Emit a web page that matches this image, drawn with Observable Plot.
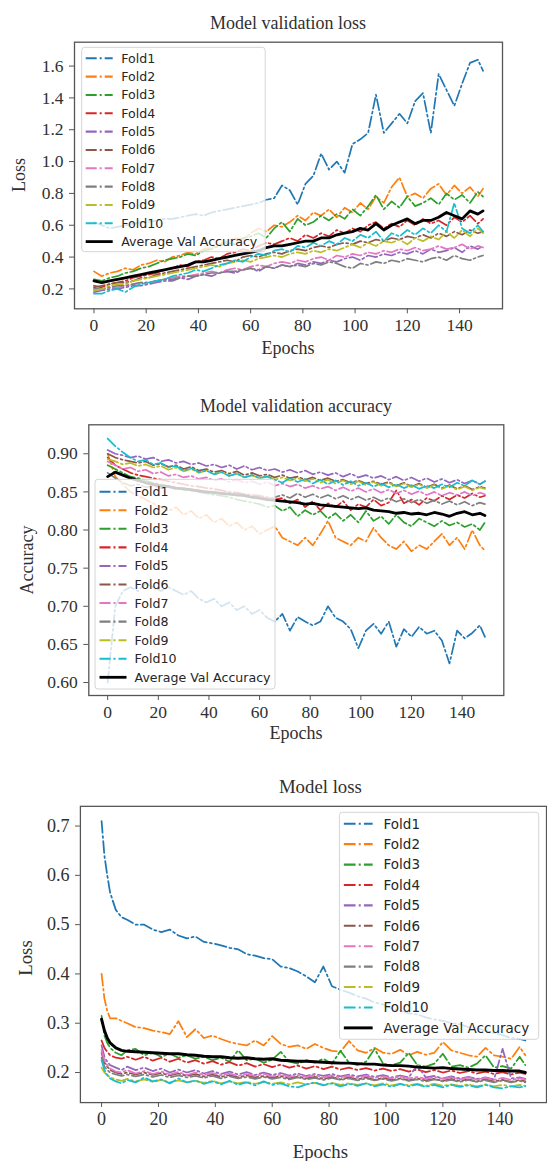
<!DOCTYPE html>
<html>
<head>
<meta charset="utf-8">
<script src="https://cdn.jsdelivr.net/npm/d3@7"></script>
<script src="https://cdn.jsdelivr.net/npm/@observablehq/plot@0.6"></script>
<style>
html,body{margin:0;padding:0;background:#fff;overflow:hidden;}
#root{position:relative;width:547px;height:1161px;overflow:hidden;background:#fff;}
.chart{position:absolute;left:0;}
.chart text{font-family:"Liberation Serif","DejaVu Serif",serif !important;}
.chart g.legend text{font-family:"DejaVu Sans",sans-serif !important;}
.lbl{position:absolute;font-family:"Liberation Serif","DejaVu Serif",serif;color:#303030;white-space:nowrap;transform:translate(-50%,-50%);line-height:1;}
.rot{transform:translate(-50%,-50%) rotate(-90deg);}
</style>
</head>
<body>
<div id="root"></div>
<script>
// ---------- categories ----------
const FOLDS = ["Fold1","Fold2","Fold3","Fold4","Fold5","Fold6","Fold7","Fold8","Fold9","Fold10"];
const AVG_NAME = "Average Val Accuracy";
const COLORS = ["#1f77b4","#ff7f0e","#2ca02c","#d62728","#9467bd","#8c564b","#e377c2","#7f7f7f","#bcbd22","#17becf"];
const X_TICKS = [0,20,40,60,80,100,120,140];

// epochs sampled for charts 1 and 2
const E1 = [0,3,6,9,12,15,18,21,24,27,30,33,36,39,42,45,48,51,54,57,60,63,66,69,72,75,78,81,84,87,90,93,96,99,102,105,108,111,114,117,120,123,126,129,132,135,138,141,144,147,149];
// epochs sampled for chart 3
const E3 = [0,1,2,3,5,7,9,12,15,18,21,24,27,30,33,36,39,42,45,48,51,54,57,60,63,66,69,72,75,78,81,84,87,90,93,96,99,102,105,108,111,114,117,120,123,126,129,132,135,138,141,144,147,149];

// ---------- Chart 1: Model validation loss ----------
const vl_f1 = [0.62,0.60,0.58,0.59,0.60,0.61,0.62,0.62,0.63,0.64, 0.64,0.65,0.66,0.67,0.66,0.68,0.69,0.70,0.71,0.72, 0.73,0.74,0.76,0.77,0.85,0.82,0.73,0.86,0.91,1.05, 0.95,1.00,0.93,1.11,1.14,1.18,1.42,1.18,1.24,1.30, 1.24,1.38,1.43,1.18,1.55,1.45,1.35,1.49,1.62,1.64, 1.57];
const vl_f2 = [0.31,0.28,0.30,0.31,0.33,0.32,0.35,0.36,0.38,0.37, 0.40,0.41,0.43,0.42,0.45,0.46,0.48,0.50,0.52,0.51, 0.55,0.58,0.56,0.60,0.59,0.62,0.66,0.63,0.68,0.66, 0.70,0.65,0.71,0.68,0.74,0.70,0.78,0.74,0.84,0.90, 0.78,0.80,0.77,0.83,0.86,0.79,0.85,0.80,0.84,0.78, 0.83];
const vl_f3 = [0.26,0.25,0.27,0.28,0.30,0.31,0.33,0.34,0.36,0.38, 0.39,0.40,0.42,0.41,0.44,0.45,0.47,0.49,0.48,0.52, 0.53,0.55,0.52,0.58,0.62,0.56,0.64,0.60,0.62,0.66, 0.63,0.67,0.64,0.70,0.66,0.72,0.79,0.70,0.75,0.71, 0.78,0.72,0.74,0.77,0.73,0.80,0.76,0.79,0.74,0.81, 0.78];
const vl_f4 = [0.22,0.21,0.23,0.24,0.25,0.27,0.28,0.29,0.30,0.32, 0.33,0.35,0.34,0.37,0.38,0.40,0.39,0.42,0.43,0.45, 0.44,0.47,0.49,0.48,0.50,0.52,0.50,0.54,0.52,0.55, 0.53,0.57,0.55,0.58,0.56,0.60,0.62,0.58,0.61,0.59, 0.63,0.60,0.64,0.61,0.63,0.60,0.65,0.62,0.66,0.61, 0.64];
const vl_f5 = [0.18,0.19,0.20,0.20,0.21,0.22,0.22,0.23,0.24,0.25, 0.25,0.27,0.26,0.28,0.29,0.28,0.30,0.31,0.30,0.32, 0.33,0.31,0.34,0.33,0.35,0.34,0.36,0.35,0.37,0.36, 0.38,0.37,0.39,0.40,0.38,0.41,0.40,0.42,0.41,0.43, 0.42,0.44,0.42,0.45,0.43,0.44,0.46,0.43,0.47,0.45, 0.47];
const vl_f6 = [0.21,0.22,0.23,0.24,0.24,0.25,0.27,0.27,0.29,0.30, 0.31,0.32,0.33,0.34,0.35,0.36,0.37,0.38,0.37,0.40, 0.41,0.40,0.42,0.43,0.42,0.44,0.45,0.44,0.46,0.47, 0.46,0.48,0.49,0.48,0.50,0.49,0.51,0.50,0.52,0.51, 0.53,0.52,0.54,0.52,0.55,0.53,0.56,0.54,0.57,0.55, 0.56];
const vl_f7 = [0.19,0.20,0.21,0.21,0.22,0.23,0.24,0.24,0.25,0.26, 0.27,0.28,0.28,0.29,0.30,0.31,0.30,0.32,0.33,0.32, 0.34,0.35,0.34,0.36,0.37,0.36,0.38,0.37,0.39,0.40, 0.38,0.41,0.40,0.42,0.41,0.43,0.42,0.44,0.43,0.45, 0.44,0.46,0.44,0.45,0.47,0.45,0.46,0.48,0.45,0.47, 0.46];
const vl_f8 = [0.20,0.20,0.21,0.22,0.22,0.23,0.24,0.24,0.25,0.26, 0.26,0.27,0.28,0.28,0.29,0.30,0.30,0.31,0.31,0.32, 0.33,0.32,0.34,0.33,0.35,0.34,0.35,0.34,0.36,0.35, 0.37,0.36,0.34,0.33,0.36,0.35,0.37,0.36,0.38,0.37, 0.39,0.38,0.37,0.39,0.40,0.38,0.41,0.39,0.38,0.40, 0.41];
const vl_f9 = [0.19,0.20,0.22,0.23,0.23,0.25,0.26,0.27,0.28,0.29, 0.30,0.31,0.32,0.33,0.34,0.35,0.34,0.36,0.37,0.38, 0.37,0.39,0.40,0.41,0.40,0.42,0.43,0.42,0.44,0.43, 0.45,0.44,0.46,0.48,0.46,0.49,0.47,0.50,0.49,0.51, 0.48,0.52,0.50,0.53,0.51,0.56,0.52,0.57,0.53,0.58, 0.55];
const vl_f10 = [0.17,0.17,0.19,0.20,0.18,0.21,0.23,0.24,0.25,0.26, 0.28,0.29,0.30,0.32,0.31,0.33,0.35,0.36,0.38,0.37, 0.40,0.42,0.41,0.44,0.45,0.43,0.47,0.46,0.49,0.47, 0.50,0.48,0.52,0.50,0.54,0.52,0.56,0.50,0.55,0.53, 0.57,0.54,0.58,0.55,0.60,0.56,0.74,0.58,0.55,0.60, 0.56];
const vl_avg = [0.25,0.24,0.25,0.26,0.27,0.28,0.29,0.30,0.31,0.32, 0.33,0.34,0.35,0.37,0.37,0.38,0.39,0.40,0.41,0.42, 0.43,0.44,0.46,0.47,0.47,0.48,0.49,0.50,0.50,0.52, 0.52,0.54,0.55,0.56,0.58,0.57,0.61,0.57,0.60,0.62, 0.64,0.61,0.63,0.63,0.65,0.68,0.66,0.64,0.69,0.67, 0.69];
const vl_yticks = [0.2,0.4,0.6,0.8,1.0,1.2,1.4,1.6];

// ---------- Chart 2: Model validation accuracy ----------
const va_f1 = [0.60,0.70,0.72,0.725,0.72,0.73,0.725,0.72,0.725,0.72, 0.715,0.72,0.71,0.705,0.71,0.70,0.705,0.695,0.70,0.69, 0.695,0.685,0.68,0.69,0.668,0.686,0.68,0.675,0.68,0.70, 0.685,0.68,0.67,0.645,0.668,0.677,0.664,0.68,0.647,0.67, 0.66,0.673,0.664,0.668,0.655,0.625,0.668,0.658,0.665,0.675, 0.66];
const va_f2 = [0.90,0.87,0.86,0.85,0.845,0.84,0.835,0.83,0.825,0.83, 0.82,0.825,0.815,0.82,0.81,0.815,0.805,0.81,0.80,0.805, 0.795,0.80,0.805,0.79,0.785,0.78,0.79,0.78,0.795,0.812, 0.79,0.785,0.78,0.79,0.785,0.803,0.79,0.78,0.775,0.785, 0.772,0.78,0.775,0.785,0.795,0.78,0.79,0.775,0.80,0.78, 0.773];
const va_f3 = [0.885,0.88,0.875,0.87,0.868,0.865,0.862,0.86,0.858,0.855, 0.853,0.852,0.85,0.848,0.846,0.845,0.843,0.84,0.838,0.836, 0.834,0.83,0.832,0.825,0.83,0.818,0.826,0.82,0.825,0.815, 0.822,0.812,0.82,0.81,0.825,0.812,0.818,0.808,0.82,0.81, 0.805,0.815,0.81,0.805,0.812,0.806,0.81,0.804,0.808,0.80, 0.81];
const va_f4 = [0.895,0.885,0.88,0.875,0.872,0.87,0.868,0.866,0.864,0.862, 0.86,0.858,0.857,0.855,0.854,0.852,0.85,0.849,0.847,0.846, 0.845,0.843,0.84,0.842,0.835,0.84,0.83,0.838,0.826,0.835, 0.83,0.838,0.826,0.834,0.83,0.84,0.832,0.836,0.852,0.835, 0.84,0.833,0.842,0.838,0.845,0.84,0.846,0.842,0.848,0.843, 0.845];
const va_f5 = [0.905,0.90,0.898,0.895,0.897,0.893,0.895,0.89,0.892,0.888, 0.89,0.886,0.888,0.884,0.886,0.882,0.885,0.88,0.884,0.879, 0.882,0.878,0.88,0.876,0.879,0.875,0.878,0.873,0.876,0.872, 0.875,0.87,0.874,0.869,0.872,0.868,0.871,0.866,0.87,0.865, 0.869,0.864,0.868,0.863,0.867,0.862,0.866,0.861,0.865,0.86, 0.864];
const va_f6 = [0.90,0.895,0.892,0.89,0.888,0.89,0.885,0.887,0.883,0.885, 0.88,0.883,0.878,0.88,0.876,0.878,0.874,0.877,0.872,0.875, 0.871,0.873,0.869,0.872,0.868,0.87,0.866,0.869,0.865,0.868, 0.864,0.866,0.862,0.865,0.861,0.864,0.86,0.863,0.858,0.862, 0.857,0.861,0.856,0.86,0.855,0.859,0.854,0.858,0.853,0.857, 0.855];
const va_f7 = [0.89,0.885,0.88,0.882,0.877,0.879,0.874,0.876,0.871,0.873, 0.869,0.871,0.867,0.869,0.865,0.867,0.863,0.866,0.862,0.864, 0.86,0.863,0.858,0.861,0.857,0.86,0.855,0.858,0.854,0.857, 0.852,0.856,0.851,0.855,0.85,0.854,0.849,0.853,0.848,0.852, 0.847,0.851,0.846,0.85,0.845,0.849,0.846,0.85,0.845,0.849, 0.847];
const va_f8 = [0.875,0.868,0.862,0.858,0.86,0.856,0.858,0.855,0.857,0.853, 0.855,0.851,0.853,0.849,0.851,0.847,0.849,0.845,0.847,0.843, 0.845,0.841,0.843,0.846,0.842,0.848,0.843,0.847,0.842,0.846, 0.841,0.845,0.84,0.844,0.839,0.843,0.838,0.842,0.837,0.841, 0.836,0.84,0.835,0.839,0.834,0.838,0.833,0.837,0.832,0.836, 0.834];
const va_f9 = [0.893,0.89,0.886,0.888,0.884,0.886,0.882,0.884,0.879,0.882, 0.877,0.88,0.875,0.878,0.873,0.876,0.871,0.874,0.869,0.872, 0.868,0.871,0.866,0.869,0.865,0.868,0.864,0.867,0.862,0.866, 0.861,0.865,0.86,0.864,0.859,0.863,0.858,0.862,0.857,0.861, 0.856,0.86,0.855,0.859,0.854,0.858,0.853,0.857,0.852,0.856, 0.854];
const va_f10 = [0.92,0.91,0.902,0.895,0.89,0.892,0.886,0.888,0.882,0.884, 0.878,0.881,0.876,0.878,0.873,0.876,0.871,0.874,0.869,0.872, 0.868,0.87,0.866,0.862,0.868,0.863,0.867,0.861,0.866,0.86, 0.865,0.859,0.864,0.858,0.862,0.857,0.861,0.856,0.86,0.855, 0.859,0.854,0.858,0.855,0.86,0.856,0.862,0.858,0.865,0.86, 0.864];
const va_avg = [0.870,0.876,0.872,0.868,0.865,0.862,0.860,0.858,0.857,0.855, 0.854,0.853,0.851,0.850,0.849,0.848,0.847,0.846,0.845,0.843, 0.842,0.840,0.839,0.838,0.837,0.836,0.834,0.835,0.833,0.832, 0.831,0.830,0.829,0.828,0.829,0.826,0.825,0.824,0.822,0.823, 0.821,0.822,0.820,0.823,0.821,0.818,0.822,0.824,0.820,0.822, 0.819];
const va_yticks = [0.60,0.65,0.70,0.75,0.80,0.85,0.90];

// ---------- Chart 3: Model loss ----------
const ml_f1 = [0.71,0.64,0.60,0.565,0.53,0.515,0.51, 0.50,0.50,0.49,0.485,0.49,0.478,0.472,0.476,0.465,0.462, 0.458,0.453,0.45,0.44,0.437,0.432,0.43,0.415,0.412,0.405, 0.395,0.383,0.415,0.375,0.368,0.362,0.355,0.35,0.342,0.338, 0.33,0.326,0.32,0.318,0.312,0.308,0.305,0.30,0.298,0.292, 0.29,0.285,0.28,0.276,0.27,0.268, 0.265];
const ml_f2 = [0.40,0.35,0.325,0.31,0.31,0.305,0.30, 0.292,0.29,0.285,0.282,0.278,0.304,0.272,0.288,0.27,0.275, 0.268,0.262,0.258,0.255,0.265,0.255,0.274,0.258,0.252,0.255, 0.248,0.258,0.25,0.244,0.242,0.264,0.245,0.24,0.25,0.24, 0.238,0.246,0.235,0.242,0.236,0.24,0.262,0.245,0.24,0.235, 0.232,0.25,0.235,0.232,0.228,0.252, 0.235];
const ml_f3 = [0.315,0.275,0.26,0.25,0.24,0.235,0.245, 0.248,0.235,0.24,0.232,0.238,0.23,0.235,0.228,0.232,0.225, 0.23,0.222,0.245,0.225,0.228,0.22,0.226,0.242,0.222,0.218, 0.225,0.22,0.228,0.218,0.244,0.22,0.215,0.222,0.248,0.218, 0.215,0.22,0.24,0.215,0.212,0.218,0.238,0.212,0.215,0.21, 0.218,0.235,0.21,0.213,0.208,0.232, 0.215];
const ml_f4 = [0.265,0.25,0.242,0.235,0.23,0.228,0.232, 0.226,0.232,0.224,0.23,0.222,0.228,0.22,0.225,0.218,0.223, 0.216,0.221,0.214,0.219,0.212,0.217,0.211,0.216,0.21,0.214, 0.208,0.213,0.207,0.212,0.206,0.21,0.205,0.209,0.204,0.208, 0.203,0.207,0.202,0.206,0.201,0.205,0.2,0.204,0.199,0.203, 0.198,0.202,0.197,0.201,0.196,0.2, 0.197];
const ml_f5 = [0.255,0.232,0.222,0.215,0.21,0.205,0.212, 0.205,0.21,0.203,0.208,0.2,0.206,0.2,0.205,0.198,0.203, 0.197,0.202,0.196,0.201,0.195,0.2,0.195,0.199,0.194,0.198, 0.193,0.197,0.193,0.197,0.192,0.196,0.192,0.196,0.191,0.195, 0.19,0.194,0.19,0.215,0.19,0.193,0.188,0.192,0.188,0.191, 0.187,0.19,0.186,0.248,0.188,0.19, 0.187];
const ml_f6 = [0.24,0.22,0.212,0.205,0.2,0.197,0.2, 0.196,0.2,0.195,0.199,0.194,0.198,0.193,0.197,0.192,0.196, 0.191,0.195,0.19,0.194,0.19,0.193,0.189,0.193,0.188,0.192, 0.188,0.191,0.187,0.191,0.186,0.19,0.186,0.19,0.185,0.189, 0.185,0.188,0.184,0.188,0.184,0.187,0.183,0.187,0.183,0.186, 0.182,0.186,0.182,0.185,0.181,0.185, 0.182];
const ml_f7 = [0.245,0.225,0.215,0.208,0.202,0.2,0.205, 0.198,0.203,0.197,0.202,0.196,0.201,0.195,0.2,0.195,0.199, 0.194,0.198,0.193,0.197,0.193,0.197,0.192,0.196,0.191,0.195, 0.191,0.195,0.19,0.194,0.19,0.193,0.189,0.193,0.189,0.192, 0.188,0.192,0.188,0.191,0.187,0.191,0.187,0.19,0.186,0.19, 0.186,0.189,0.185,0.189,0.185,0.188, 0.186];
const ml_f8 = [0.23,0.212,0.205,0.2,0.196,0.193,0.196, 0.192,0.196,0.191,0.195,0.19,0.194,0.19,0.193,0.189,0.193, 0.188,0.192,0.188,0.191,0.187,0.191,0.187,0.19,0.186,0.19, 0.186,0.189,0.185,0.189,0.185,0.188,0.184,0.188,0.184,0.187, 0.183,0.187,0.183,0.186,0.182,0.186,0.182,0.185,0.181,0.185, 0.181,0.184,0.18,0.184,0.18,0.183, 0.18];
const ml_f9 = [0.21,0.2,0.195,0.19,0.186,0.183,0.187, 0.182,0.186,0.181,0.185,0.18,0.184,0.18,0.183,0.179,0.183, 0.178,0.182,0.178,0.181,0.177,0.181,0.177,0.18,0.176,0.18, 0.176,0.179,0.175,0.179,0.175,0.178,0.175,0.178,0.174,0.178, 0.174,0.177,0.174,0.177,0.173,0.177,0.173,0.176,0.173,0.176, 0.172,0.176,0.172,0.175,0.172,0.175, 0.173];
const ml_f10 = [0.225,0.205,0.195,0.188,0.182,0.178,0.185, 0.18,0.19,0.182,0.186,0.178,0.188,0.18,0.184,0.177,0.182, 0.176,0.183,0.175,0.18,0.174,0.182,0.175,0.178,0.172,0.17, 0.176,0.18,0.174,0.178,0.172,0.177,0.173,0.178,0.172,0.176, 0.171,0.177,0.172,0.176,0.171,0.175,0.17,0.175,0.171,0.174, 0.17,0.175,0.17,0.168,0.172,0.17, 0.172];
const ml_avg = [0.308,0.285,0.27,0.26,0.25,0.245,0.243, 0.242,0.241,0.24,0.239,0.238,0.238,0.236,0.235,0.233,0.232, 0.232,0.23,0.229,0.23,0.228,0.227,0.228,0.225,0.224,0.223, 0.223,0.222,0.221,0.22,0.219,0.219,0.218,0.217,0.217,0.215, 0.214,0.214,0.213,0.211,0.21,0.209,0.21,0.208,0.207,0.206, 0.205,0.205,0.204,0.204,0.203,0.203, 0.20];
const ml_yticks = [0.2,0.3,0.4,0.5,0.6,0.7];

// ---------- drawing ----------
const root = document.getElementById("root");
const SERIF = '"Liberation Serif","DejaVu Serif",serif';

function label(text, x, y, size, rotate){
  const d = document.createElement("div");
  d.className = "lbl" + (rotate ? " rot" : "");
  d.style.left = x + "px"; d.style.top = y + "px"; d.style.fontSize = size + "px";
  d.textContent = text;
  root.appendChild(d);
}

function makeChart(c){
  const all = [...c.folds, c.avg];
  all.forEach((s,i)=>{ if (s.length !== c.epochs.length) throw new Error(c.name+" series "+i+" length "+s.length+" vs "+c.epochs.length); });
  const marks = [];
  c.folds.forEach((vals, i) => {
    const rows = c.epochs.map((e, j) => ({epoch: e, value: vals[j]}));
    marks.push(Plot.line(rows, {x: "epoch", y: "value", stroke: COLORS[i], strokeWidth: c.lw, strokeDasharray: c.dash, strokeLinejoin: "round"}));
  });
  const avgRows = c.epochs.map((e, j) => ({epoch: e, value: c.avg[j]}));
  marks.push(Plot.line(avgRows, {x: "epoch", y: "value", stroke: "#000", strokeWidth: c.avgW, strokeLinejoin: "round"}));
  marks.push(Plot.axisX({ticks: X_TICKS, tickFormat: d => String(d), tickSize: 5, tickPadding: 5, fontSize: c.fs, fontFamily: SERIF, fill: "#303030", stroke: "#555", label: null}));
  marks.push(Plot.axisY({ticks: c.yticks, tickFormat: c.fmt, tickSize: 5, tickPadding: 6, fontSize: c.fs, fontFamily: SERIF, fill: "#303030", stroke: "#555", label: null}));
  marks.push(Plot.frame({stroke: "#555", strokeWidth: 1.3}));

  const svg = Plot.plot({
    width: c.width, height: c.height,
    marginTop: c.mt, marginBottom: c.mb, marginLeft: c.ml, marginRight: c.mr,
    x: {domain: [-7.45, 156.45]},
    y: {domain: c.ydom},
    style: {fontFamily: SERIF, background: "transparent", overflow: "visible"},
    marks
  });
  svg.classList.add("chart");
  svg.style.top = c.top + "px";
  root.appendChild(svg);

  // legend
  const L = c.legend;
  const g = d3.select(svg).append("g").attr("class", "legend")
    .attr("font-size", L.fs).attr("text-anchor", "start")
    .style("font-size", L.fs + "px");
  g.append("rect").attr("x", L.x).attr("y", L.y).attr("width", L.w).attr("height", L.h).attr("rx", 3)
    .attr("fill", "#fff").attr("fill-opacity", 0.8).attr("stroke", "#d4d4d4").attr("stroke-width", 1);
  [...FOLDS, AVG_NAME].forEach((n, i) => {
    const cy = L.row0 + i * L.dy;
    const isAvg = i === 10;
    g.append("line").attr("x1", L.x + L.sx).attr("x2", L.x + L.sx + L.sw).attr("y1", cy).attr("y2", cy)
      .attr("stroke", isAvg ? "#000" : COLORS[i]).attr("stroke-width", isAvg ? c.avgW : c.lw + 0.4)
      .attr("stroke-dasharray", isAvg ? null : c.dash);
    g.append("text").attr("x", L.x + L.tx).attr("y", cy).attr("dy", "0.36em")
      .attr("text-anchor", "start").attr("fill", "#262626").text(n);
  });

  label(c.title, c.cx, c.top + c.titleY, c.tfs);
  label("Epochs", c.cx, c.top + c.xlabY, c.tfs);
  label(c.ylab, c.ylabX, c.top + c.ylabY, c.tfs, true);
}

makeChart({
  name: "val loss", top: 0, width: 547, height: 360, mt: 41.7, mb: 51.7, ml: 74, mr: 45,
  epochs: E1, folds: [vl_f1,vl_f2,vl_f3,vl_f4,vl_f5,vl_f6,vl_f7,vl_f8,vl_f9,vl_f10], avg: vl_avg,
  ydom: [0.075, 1.75], yticks: vl_yticks, fmt: d3.format(".1f"),
  lw: 1.7, dash: "11,3,2,3", avgW: 2.8, fs: 17.5, tfs: 18,
  title: "Model validation loss", cx: 288, titleY: 23, xlabY: 347.7, ylab: "Loss", ylabX: 19, ylabY: 175,
  legend: {x: 81.7, y: 47.3, w: 183.5, h: 204.4, row0: 58.3, dy: 18.33, sx: 4, sw: 27, tx: 39.5, fs: 12.6}
});

makeChart({
  name: "val acc", top: 390, width: 547, height: 360, mt: 34.3, mb: 55, ml: 88.3, mr: 43.7,
  epochs: E1, folds: [va_f1,va_f2,va_f3,va_f4,va_f5,va_f6,va_f7,va_f8,va_f9,va_f10], avg: va_avg,
  ydom: [0.583, 0.938], yticks: va_yticks, fmt: d3.format(".2f"),
  lw: 1.7, dash: "11,3,2,3", avgW: 2.8, fs: 17.5, tfs: 18,
  title: "Model validation accuracy", cx: 296, titleY: 16, xlabY: 343.3, ylab: "Accuracy", ylabX: 27, ylabY: 170,
  legend: {x: 95, y: 89.3, w: 180, h: 209.7, row0: 101.7, dy: 18.56, sx: 4.5, sw: 27, tx: 39.5, fs: 12.6}
});

makeChart({
  name: "loss", top: 770, width: 560, height: 391, mt: 36.7, mb: 51, ml: 81.8, mr: 1,
  epochs: E3, folds: [ml_f1,ml_f2,ml_f3,ml_f4,ml_f5,ml_f6,ml_f7,ml_f8,ml_f9,ml_f10], avg: ml_avg,
  ydom: [0.139, 0.74], yticks: ml_yticks, fmt: d3.format(".1f"),
  lw: 1.8, dash: "12,3.3,2,3.3", avgW: 3, fs: 18.5, tfs: 18.8,
  title: "Model loss", cx: 320.4, titleY: 17, xlabY: 381.7, ylab: "Loss", ylabX: 26, ylabY: 188,
  legend: {x: 347.5, y: 43.3, w: 204, h: 232.4, row0: 55, dy: 20.9, sx: 4.5, sw: 29.5, tx: 45.2, fs: 13.8}
});
</script>
</body>
</html>
